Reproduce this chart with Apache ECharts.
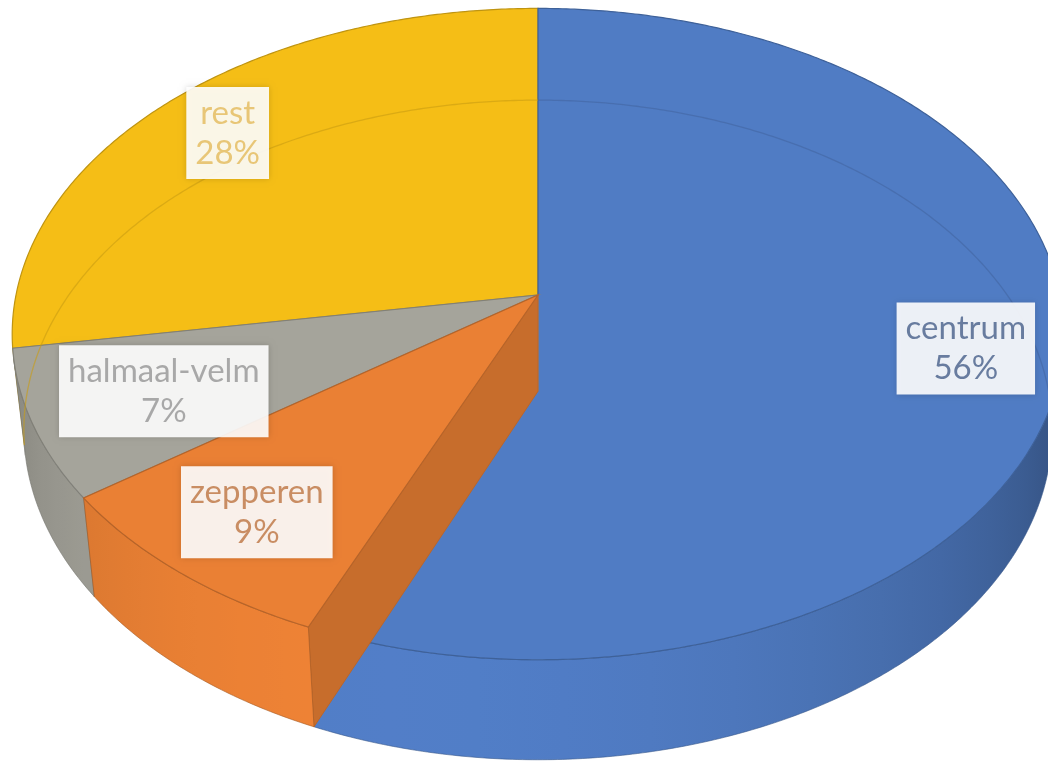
<!DOCTYPE html>
<html>
<head>
<meta charset="utf-8">
<script src="https://cdn.jsdelivr.net/npm/echarts@6/dist/echarts.min.js"></script>
<style>
html, body { margin: 0; padding: 0; background: #fff; }
#chart { width: 1048px; height: 762px; }
</style>
</head>
<body>
<div id="chart"></div>
<script>
// Slices, clockwise from 12 o'clock
var categories = ['centrum', 'zepperen', 'halmaal-velm', 'rest'];
var values = [56.4, 8.6, 7.4, 27.6];

var sliceColors = ['#507CC4', '#EA8034', '#A5A49B', '#F5BE16'];
var labelColors = ['#687C9F', '#C98D63', '#A8A8A8', '#E8C677'];
var labelRadius = [0.82, 0.8, 0.75, 0.83];

/* Perspective of the tilted 3D pie. */
var view = { cx: 538, cy: 295, halfWidth: 522, halfDepth: 321, persp: 0.12, thickness: 0.239 };
var sinP = view.halfDepth / view.halfWidth;
var cosP = Math.sqrt(1 - sinP * sinP);
var dist = cosP / view.persp;
var focal = view.halfWidth * dist;
var wallLimit = Math.acos(-1 / (dist * cosP)); // walls face the camera between wallLimit and 2PI - wallLimit
var STEP = Math.PI / 180;

function project(x, y, z) {
    var depth = dist + z * cosP - y * sinP;
    var yc = y * cosP + z * sinP;
    return [view.cx + focal * x / depth, view.cy - focal * yc / depth];
}
function rim(a, y, r) {
    r = r == null ? 1 : r;
    return project(r * Math.sin(a), y, r * Math.cos(a));
}
function shade(hex, f) {
    var n = parseInt(hex.slice(1), 16);
    var r = Math.min(255, Math.round(((n >> 16) & 255) * f));
    var g = Math.min(255, Math.round(((n >> 8) & 255) * f));
    var b = Math.min(255, Math.round((n & 255) * f));
    return 'rgb(' + r + ',' + g + ',' + b + ')';
}
function arcPoints(a0, a1, y) {
    var pts = [];
    var n = Math.max(1, Math.ceil((a1 - a0) / (STEP / 2)));
    for (var i = 0; i <= n; i++) {
        pts.push(rim(a0 + (a1 - a0) * i / n, y));
    }
    return pts;
}
function wallLight(a) {
    return 0.66 + 0.36 * Math.max(0, Math.cos(a - 195 * STEP));
}

/* Slice angles from the values. */
var total = values.reduce(function (s, v) { return s + v; }, 0);
var slices = [];
var acc = 0;
values.forEach(function (v, i) {
    var a0 = acc / total * Math.PI * 2;
    acc += v;
    var a1 = acc / total * Math.PI * 2;
    slices.push({ a0: a0, a1: a1, mid: (a0 + a1) / 2 });
});
/* Painter order: back slices first. */
var order = slices.map(function (s, i) { return i; })
    .sort(function (p, q) { return Math.cos(slices[q].mid) - Math.cos(slices[p].mid); });
order.forEach(function (idx, rank) { slices[idx].rank = rank; });

function renderSlice(params, api) {
    var i = params.dataIndex;
    var s = slices[i];
    var color = sliceColors[i];
    var t = -view.thickness;
    var base = s.rank * 10;
    var children = [];

    // radial cut faces that face the camera
    [[s.a0, Math.sin(s.a0) < -1e-6], [s.a1, Math.sin(s.a1) > 1e-6]].forEach(function (f) {
        if (!f[1]) return;
        children.push({
            type: 'polygon',
            z2: base + 1,
            shape: { points: [project(0, 0, 0), rim(f[0], 0), rim(f[0], t), project(0, t, 0)] },
            style: { fill: shade(color, 0.85), stroke: shade(color, 0.8), lineWidth: 1 }
        });
    });

    // outer wall, one polygon with a horizontal light gradient
    var w0 = Math.max(s.a0, wallLimit), w1 = Math.min(s.a1, Math.PI * 2 - wallLimit);
    if (w0 < w1) {
        var pts = arcPoints(w0, w1, 0).concat(arcPoints(w0, w1, t).reverse());
        var xa = rim(w0, 0)[0], xb = rim(w1, 0)[0];
        var stops = [];
        for (var k = 0; k <= 12; k++) {
            var a = w0 + (w1 - w0) * k / 12;
            var off = (rim(a, 0)[0] - xa) / (xb - xa || 1);
            stops.push({ offset: Math.min(1, Math.max(0, off)), color: shade(color, wallLight(a)) });
        }
        stops.sort(function (p, q) { return p.offset - q.offset; });
        children.push({
            type: 'polygon',
            z2: base + 2,
            shape: { points: pts },
            style: {
                fill: { type: 'linear', x: Math.min(xa, xb), y: 0, x2: Math.max(xa, xb), y2: 0, global: true,
                        colorStops: xa < xb ? stops : stops.map(function (c) { return { offset: 1 - c.offset, color: c.color }; }).reverse() },
                stroke: shade(color, 0.7),
                lineWidth: 0.6
            }
        });
    }

    // top face
    var top = [project(0, 0, 0)].concat(arcPoints(s.a0, s.a1, 0));
    children.push({
        type: 'polygon',
        z2: base + 3,
        shape: { points: top },
        style: { fill: color, stroke: shade(color, 0.78), lineWidth: 1.2 }
    });

    // hidden back edge of the bottom, showing through
    [[0, wallLimit], [Math.PI * 2 - wallLimit, Math.PI * 2]].forEach(function (h) {
        var h0 = Math.max(s.a0, h[0]), h1 = Math.min(s.a1, h[1]);
        if (h0 >= h1) return;
        children.push({
            type: 'polyline',
            z2: 500,
            shape: { points: arcPoints(h0, h1, t) },
            style: { fill: null, stroke: shade(color, 0.82), lineWidth: 1.3, opacity: 0.6 }
        });
    });

    // data label
    var pct = Math.round(values[i] / total * 100);
    var lp = rim(s.mid, 0, labelRadius[i]);
    children.push({
        type: 'text',
        z2: 1000,
        x: lp[0],
        y: lp[1],
        style: {
            text: categories[i] + '\n' + pct + '%',
            fill: labelColors[i],
            font: '33px Lato, "Noto Sans", sans-serif',
            lineHeight: 40,
            align: 'center',
            verticalAlign: 'middle',
            backgroundColor: 'rgba(255,255,255,0.9)',
            padding: [6, 9, 6, 9],
            shadowBlur: 6,
            shadowColor: 'rgba(0,0,0,0.18)'
        }
    });

    return { type: 'group', children: children };
}

var chart = echarts.init(document.getElementById('chart'));
chart.setOption({
    animation: false,
    backgroundColor: '#ffffff',
    series: [{
        type: 'custom',
        coordinateSystem: 'none',
        renderItem: renderSlice,
        data: values.map(function (v, i) { return { name: categories[i], value: v }; })
    }]
});
</script>
</body>
</html>
